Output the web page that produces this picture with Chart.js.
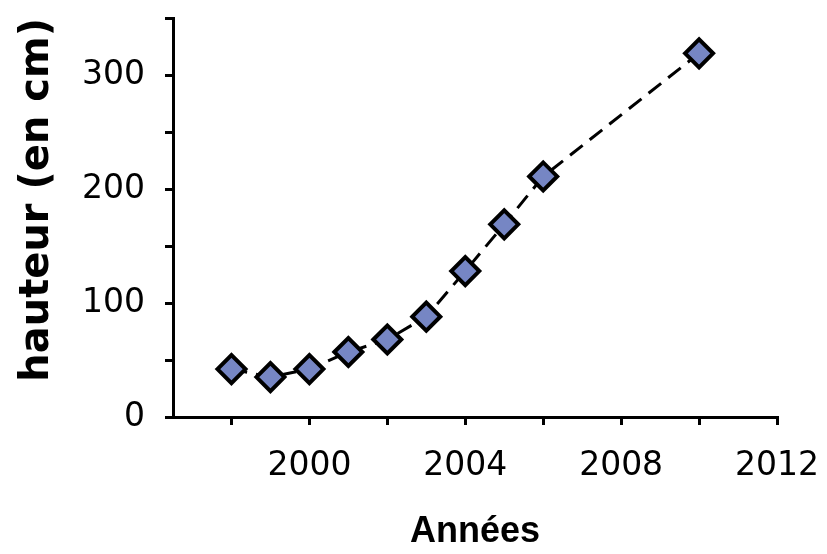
<!DOCTYPE html>
<html>
<head>
<meta charset="utf-8">
<script src="https://cdn.jsdelivr.net/npm/chart.js@4.4.0/dist/chart.umd.min.js"></script>
<style>
  body { margin: 0; background: #fff; }
  #wrap { width: 827px; height: 554px; }
</style>
</head>
<body>
<div id="wrap"><canvas id="chart1"></canvas></div>
<script>
// data
const years = [1998, 1999, 2000, 2001, 2002, 2003, 2004, 2005, 2006, 2010];
const hauteur = [42, 35, 42, 57, 68, 88, 128, 169, 211, 319];
const xTicks = [1998, 2000, 2002, 2004, 2006, 2008, 2010, 2012];
const xLabels = [2000, 2004, 2008, 2012];
const yTicks = [0, 50, 100, 150, 200, 250, 300, 350];
const yLabels = [0, 100, 200, 300];

const tickFont = { family: "DejaVu Sans", size: 33 };

const chart1 = document.getElementById("chart1");
var stat1 = new Chart(chart1, {
    type: "scatter",
    data: {
        datasets: [{
            data: years.map((y, i) => ({ x: y, y: hauteur[i] })),
            showLine: true,
            borderColor: "#000000",
            borderWidth: 3,
            borderDash: [16, 9],
            pointStyle: "rectRot",
            pointRadius: 14,
            pointHoverRadius: 14,
            pointBackgroundColor: "#7686c4",
            pointBorderColor: "#000000",
            pointBorderWidth: 4,
        }],
    },
    options: {
        responsive: true,
        maintainAspectRatio: false,
        animation: false,
        layout: { padding: { top: 15, right: 50, left: 0, bottom: 0 } },
        plugins: { legend: { display: false }, tooltip: { enabled: false } },
        scales: {
            x: {
                type: "linear",
                min: 1996.5,
                max: 2012,
                afterBuildTicks: s => { s.ticks = xTicks.map(v => ({ value: v })); },
                afterFit: s => { s.height = 137; s.paddingLeft = 0; s.paddingRight = 0; },
                border: { display: true, color: "#000", width: 3 },
                grid: { drawOnChartArea: false, drawTicks: true, tickLength: 8, color: "#000", lineWidth: 3 },
                ticks: {
                    color: "#000",
                    font: tickFont,
                    padding: 22,
                    maxRotation: 0,
                    autoSkip: false,
                    callback: v => xLabels.includes(v) ? String(v) : "",
                },
                title: {
                    display: true,
                    text: "Années",
                    color: "#000",
                    font: { family: "Liberation Sans", size: 36, weight: "bold" },
                    padding: { top: 32, bottom: 0 },
                },
            },
            y: {
                min: 0,
                max: 350,
                afterBuildTicks: s => { s.ticks = yTicks.map(v => ({ value: v })); },
                afterFit: s => { s.width = 173; s.paddingTop = 0; s.paddingBottom = 0; },
                border: { display: true, color: "#000", width: 3 },
                grid: { drawOnChartArea: false, drawTicks: true, tickLength: 8, color: "#000", lineWidth: 3 },
                ticks: {
                    color: "#000",
                    font: tickFont,
                    padding: 20,
                    autoSkip: false,
                    callback: v => yLabels.includes(v) ? String(v) : "",
                },
                title: {
                    display: true,
                    text: "hauteur (en cm)",
                    align: "end",
                    color: "#000",
                    font: { family: "DejaVu Sans", size: 40, weight: "bold" },
                    padding: { top: 14, bottom: 0 },
                },
            },
        },
    },
});
</script>
</body>
</html>
